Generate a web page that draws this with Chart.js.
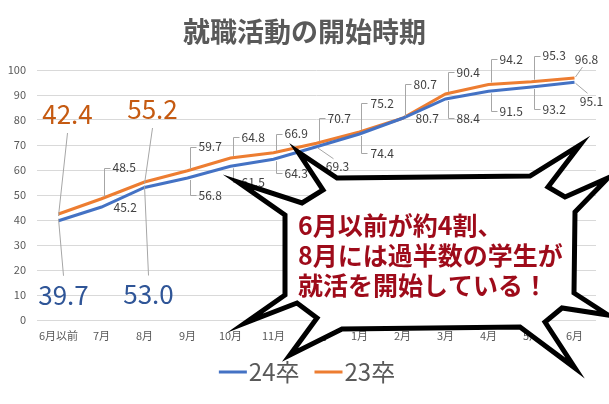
<!DOCTYPE html>
<html><head><meta charset="utf-8">
<script src="https://cdn.jsdelivr.net/npm/chart.js@4/dist/chart.umd.min.js"></script>
<style>html,body{margin:0;padding:0;background:#fff;overflow:hidden}</style>
</head><body>
<canvas id="c" width="609" height="404" style="width:609px;height:404px;display:block"></canvas>
<script>
// ---- data ----
const categories = ['6月以前','7月','8月','9月','10月','11月','12月','1月','2月','3月','4月','5月','6月'];
const values24 = [39.7,45.2,53.0,56.8,61.5,64.3,69.3,74.4,80.7,88.4,91.5,93.2,95.1];
const values23 = [42.4,48.5,55.2,59.7,64.8,66.9,70.7,75.2,80.7,90.4,94.2,95.3,96.8];
const seriesNames = ['24卒','23卒'];
const yTickValues = [0,10,20,30,40,50,60,70,80,90,100];
const titleText = '就職活動の開始時期';
const calloutLines = ['6月以前が約4割、','8月には過半数の学生が','就活を開始している！'];

// ---- label layout (styles, not data) ----
const labelKind24 = ['big','side','big','bracket','bracket','bracket','diag','bracket','side','bracket','bracket','bracket','diag'];
const labelDx24   = [5,12,4,11,11,11,21,11,13,11,11,11,17];
const labelDy24   = [74,0,107,17,16,14,20,19,0,19,20,22,19];
const labelKind23 = ['big','bracket','big','bracket','bracket','bracket','bracket','bracket','bracket','bracket','bracket','bracket','diag'];
const labelDx23   = [9,11,8,11,11,11,11,11,11,11,11,11,12];
const labelDy23   = [-100,-31,-73,-24,-21,-19,-25,-29,-34,-22,-25,-26,-19];

const FONT = "'Noto Sans CJK JP','Noto Sans',sans-serif";
Chart.defaults.font.family = FONT;

const COLORS = {blue:'#4472C4', orange:'#ED7D31', bigBlue:'#2F5597', bigOrange:'#C55A11', label:'#404040', leader:'#A6A6A6', axis:'#595959'};

const labelPlugin = {
  id:'valueLabels',
  afterDatasetsDraw(chart){
    const ctx = chart.ctx;
    const cfgs = [
      {kind:labelKind24, dx:labelDx24, dy:labelDy24, big:COLORS.bigBlue},
      {kind:labelKind23, dx:labelDx23, dy:labelDy23, big:COLORS.bigOrange}
    ];
    chart.data.datasets.forEach((ds, di)=>{
      const meta = chart.getDatasetMeta(di);
      const c = cfgs[di];
      meta.data.forEach((pt, i)=>{
        const px = pt.x, py = pt.y;
        const kind = c.kind[i], dx = c.dx[i], dy = c.dy[i];
        const txt = ds.data[i].toFixed(1);
        ctx.save();
        ctx.strokeStyle = COLORS.leader;
        ctx.lineWidth = 1;
        ctx.textBaseline = 'middle';
        if (kind === 'big') {
          const lx = px + dx, ly = py + dy;
          const dir = dy < 0 ? 1 : -1;
          ctx.beginPath();
          ctx.moveTo(lx, ly + dir*19);
          ctx.lineTo(px, py + dir*2);
          ctx.stroke();
          ctx.font = '26px ' + FONT;
          ctx.fillStyle = c.big;
          ctx.textAlign = 'center';
          ctx.fillText(txt, lx, ly);
        } else if (kind === 'bracket') {
          const bx = Math.round(px + 2) + 0.5;
          const ly = Math.round(py + dy) + 0.5;
          const sy = py + (dy < 0 ? -2 : 2);
          ctx.beginPath();
          ctx.moveTo(bx, sy);
          ctx.lineTo(bx, ly);
          ctx.lineTo(bx + 6, ly);
          ctx.stroke();
          ctx.font = '12px ' + FONT;
          ctx.fillStyle = COLORS.label;
          ctx.textAlign = 'left';
          ctx.fillText(txt, px + dx, py + dy);
        } else if (kind === 'side') {
          ctx.font = '12px ' + FONT;
          ctx.fillStyle = COLORS.label;
          ctx.textAlign = 'left';
          ctx.fillText(txt, px + dx, py + dy);
        } else if (kind === 'diag') {
          const lx = px + dx, ly = py + dy;
          ctx.beginPath();
          ctx.moveTo(px + 1, py + (dy<0?-1:1));
          ctx.lineTo(lx - 4, ly + (dy<0?8:-8));
          ctx.stroke();
          ctx.font = '12px ' + FONT;
          ctx.fillStyle = COLORS.label;
          ctx.textAlign = 'center';
          ctx.fillText(txt, lx, ly);
        }
        ctx.restore();
      });
    });
  }
};

const legendAndCallout = {
  id:'legendAndCallout',
  afterDraw(chart){
    const ctx = chart.ctx;
    // custom legend
    ctx.save();
    ctx.font = '24px ' + FONT;
    ctx.textBaseline = 'middle';
    const items = chart.data.datasets.map(ds=>({name:ds.label, color:ds.borderColor, w:28+2+ctx.measureText(ds.label).width}));
    const gap = 15;
    const total = items.reduce((s,it)=>s+it.w,0) + gap*(items.length-1);
    let x = 307 - total/2;
    const y = 372;
    items.forEach(it=>{
      ctx.fillStyle = it.color;
      ctx.fillRect(x, y-1.5, 28, 3);
      ctx.fillStyle = COLORS.axis;
      ctx.textAlign = 'left';
      ctx.fillText(it.name, x + 30, y);
      x += it.w + gap;
    });
    ctx.restore();

    // burst callout
    const P = [[337,178],[530,176],[580,145],[548,187],[565,197],[608,178],[575,212],[574,293],[608,315],[562,308],[545,322],[575,368],[520,327],[342,329],[290,355],[317,318],[297,303],[245,323],[285,295],[285,215],[238,182],[302,203],[323,190],[298,152]];
    ctx.save();
    ctx.beginPath();
    P.forEach((p,i)=> i? ctx.lineTo(p[0],p[1]) : ctx.moveTo(p[0],p[1]));
    ctx.closePath();
    ctx.fillStyle = '#fff';
    ctx.fill();
    ctx.lineWidth = 5;
    ctx.lineJoin = 'miter';
    ctx.miterLimit = 10;
    ctx.strokeStyle = '#000';
    ctx.stroke();
    ctx.font = 'bold 25px ' + FONT;
    ctx.fillStyle = '#9E0B1A';
    ctx.textBaseline = 'middle';
    ctx.textAlign = 'left';
    calloutLines.forEach((t,i)=> ctx.fillText(t, 298, 225 + i*30));
    ctx.restore();
  }
};

new Chart(document.getElementById('c'), {
  type:'line',
  data:{
    labels:categories,
    datasets:[
      {label:seriesNames[0], data:values24, borderColor:COLORS.blue, backgroundColor:COLORS.blue, borderWidth:3, pointRadius:0, tension:0},
      {label:seriesNames[1], data:values23, borderColor:COLORS.orange, backgroundColor:COLORS.orange, borderWidth:3, pointRadius:0, tension:0}
    ]
  },
  options:{
    responsive:false,
    animation:false,
    devicePixelRatio:1,
    layout:{padding:{left:0,right:0,top:0,bottom:53}},
    plugins:{
      title:{display:true, text:titleText, color:COLORS.axis, font:{size:27, weight:'bold'}, padding:{top:16, bottom:21.6}},
      legend:{display:false},
      tooltip:{enabled:false}
    },
    scales:{
      x:{
        offset:true,
        grid:{display:false},
        border:{display:false},
        ticks:{color:COLORS.axis, font:{size:11}, padding:1, maxRotation:0, autoSkip:false},
        afterFit(s){ s.height = 31; }
      },
      y:{
        min:0, max:100,
        afterBuildTicks(s){ s.ticks = yTickValues.map(v=>({value:v})); },
        ticks:{color:COLORS.axis, font:{size:11}, padding:11},
        grid:{color:'#D9D9D9', drawTicks:false},
        border:{display:false},
        afterFit(s){ s.width = 37; }
      },
      yRight:{
        position:'right',
        display:true,
        min:0, max:100,
        ticks:{display:false},
        grid:{display:false, drawTicks:false},
        border:{display:false},
        afterFit(s){ s.width = 13; }
      }
    }
  },
  plugins:[labelPlugin, legendAndCallout]
});
</script>
</body></html>
